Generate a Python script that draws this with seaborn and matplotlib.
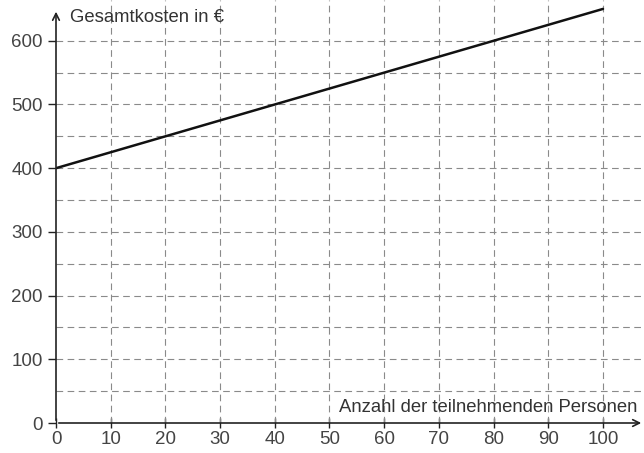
import matplotlib
matplotlib.use("Agg")
import matplotlib.pyplot as plt
import seaborn as sns
import pandas as pd

# data
personen = [0, 100]
kosten = [400, 650]
x_ticks = [0, 10, 20, 30, 40, 50, 60, 70, 80, 90, 100]
y_ticks = [0, 100, 200, 300, 400, 500, 600]
x_grid = [10, 20, 30, 40, 50, 60, 70, 80, 90, 100]
y_grid = [50, 100, 150, 200, 250, 300, 350, 400, 450, 500, 550, 600]
x_label = "Anzahl der teilnehmenden Personen"
y_label = "Gesamtkosten in €"

sns.set_theme(style="white")
plt.rcParams['font.family'] = ['Liberation Sans', 'DejaVu Sans']

W, H = 644, 453
fig = plt.figure(figsize=(W / 100, H / 100), dpi=100)
ax = fig.add_axes([56 / W, 30 / H, 588 / W, 423 / H])
xmax, ymax = 107.5, 664
ax.set_xlim(0, xmax)
ax.set_ylim(0, ymax)
for s in ax.spines.values():
    s.set_visible(False)

gridc = "#8a8a8a"
for gx in x_grid:
    ax.plot([gx, gx], [0, ymax], ls=(0, (6, 4)), lw=0.8, color=gridc, zorder=1)
for gy in y_grid:
    ax.plot([0, xmax], [gy, gy], ls=(0, (6, 4)), lw=0.8, color=gridc, zorder=1)

df = pd.DataFrame({"Personen": personen, "Kosten": kosten})
sns.lineplot(data=df, x="Personen", y="Kosten", ax=ax, color="#111111", lw=1.8, zorder=3)

axc = "#222222"
ax.annotate("", xy=(xmax, 0), xytext=(0, 0),
            arrowprops=dict(arrowstyle="->", color=axc, lw=1.2, mutation_scale=12),
            annotation_clip=False, zorder=4)
ax.annotate("", xy=(0, 650), xytext=(0, 0),
            arrowprops=dict(arrowstyle="->", color=axc, lw=1.2, mutation_scale=12),
            annotation_clip=False, zorder=4)

ax.set_xticks(x_ticks)
ax.set_yticks(y_ticks)
ax.tick_params(axis="x", direction="inout", length=7, width=1, color=axc,
               labelsize=13.5, labelcolor="#444444", pad=2, bottom=True)
ax.tick_params(axis="y", direction="out", length=5.5, width=1, color=axc,
               labelsize=13.5, labelcolor="#444444", pad=4, left=True)
ax.set_xlabel("")
ax.set_ylabel("")

ax.text(2.5, 637, y_label, fontsize=13.3, color="#333333", va="center", ha="left")
ax.text(106.2, 25, x_label, fontsize=13.3, color="#333333", va="center", ha="right")

fig.savefig("out.png", dpi=100)
